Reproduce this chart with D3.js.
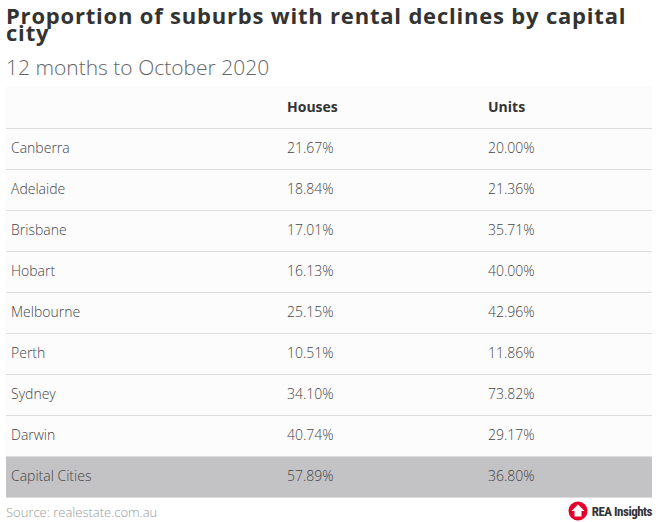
<!DOCTYPE html>
<html><head><meta charset="utf-8">
<script src="https://cdn.jsdelivr.net/npm/d3@7"></script>
<style>body{margin:0;background:#fff;}svg{display:block;}</style>
</head><body><div id="chart"></div>
<script>
const cities = ["Canberra","Adelaide","Brisbane","Hobart","Melbourne","Perth","Sydney","Darwin","Capital Cities"];
const houses = ["21.67%","18.84%","17.01%","16.13%","25.15%","10.51%","34.10%","40.74%","57.89%"];
const units = ["20.00%","21.36%","35.71%","40.00%","42.96%","11.86%","73.82%","29.17%","36.80%"];
const columns = ["", "Houses", "Units"];
const titleLines = ["Proportion of suburbs with rental declines by capital", "city"];

const W = 671, H = 522;
const svg = d3.select("#chart").append("svg").attr("width", W).attr("height", H);
svg.append("rect").attr("width", W).attr("height", H).attr("fill", "#fff");

const font = "'Open Sans', sans-serif";
const title = svg.append("text").attr("font-family", font).attr("font-weight", 700)
  .attr("font-size", 22).attr("letter-spacing", 0.8).attr("fill", "#333");
titleLines.forEach((t, i) => title.append("tspan").attr("x", 6).attr("y", 24 + i * 17).text(t));
svg.append("text").attr("x", 6).attr("y", 75).attr("font-family", font).attr("font-weight", 300)
  .attr("font-size", 21).attr("fill", "#666").text("12 months to October 2020");

const x0 = 6, x1 = 652;
const y = d3.scaleBand().domain(d3.range(cities.length)).range([128, 497]).padding(0);
const colX = [11, 287, 488];

svg.append("rect").attr("x", x0).attr("y", 86).attr("width", x1 - x0).attr("height", 42).attr("fill", "#fdfcfd");
columns.forEach((c, i) => svg.append("text").attr("x", colX[i]).attr("y", 112).attr("font-family", font)
  .attr("font-weight", 700).attr("font-size", 14).attr("fill", "#333").text(c));

const rows = svg.selectAll("g.row").data(cities).join("g").attr("class", "row")
  .attr("transform", (d, i) => `translate(0,${y(i)})`);
rows.append("rect").attr("x", x0).attr("width", x1 - x0).attr("height", y.bandwidth())
  .attr("fill", (d, i) => i === cities.length - 1 ? "#c3c2c4" : "#fdfcfd");
rows.append("line").attr("x1", x0).attr("x2", x1).attr("y1", 0.5).attr("y2", 0.5).attr("stroke", "#ddd");
const cells = (d, i) => [d, houses[i], units[i]];
rows.each(function(d, i) {
  const g = d3.select(this);
  cells(d, i).forEach((t, j) => g.append("text").attr("x", colX[j]).attr("y", y.bandwidth() / 2 + 4.5)
    .attr("font-family", font).attr("font-weight", 300).attr("font-size", 14).attr("fill", "#444").text(t));
});
svg.append("line").attr("x1", x0).attr("x2", x1).attr("y1", 497.5).attr("y2", 497.5).attr("stroke", "#ddd");

svg.append("text").attr("x", 6).attr("y", 517).attr("font-family", font).attr("font-weight", 300)
  .attr("font-size", 13).attr("fill", "#999").text("Source: realestate.com.au");

const lg = svg.append("g").attr("transform", "translate(578,511)");
lg.append("circle").attr("r", 9.5).attr("fill", "#e4002b");
lg.append("path").attr("d", "M0,-6.5 L6.5,0 L3.5,0 L3.5,5.5 L-3.5,5.5 L-3.5,0 L-6.5,0 Z").attr("fill", "#fff");
svg.append("text").attr("x", 652).attr("y", 516).attr("text-anchor", "end").attr("font-family", "'Roboto Condensed', 'Liberation Sans Narrow', 'Open Sans', sans-serif")
  .attr("font-weight", 700).attr("font-size", 13).attr("letter-spacing", -0.5).attr("fill", "#333").text("REA Insights");
</script></body></html>
